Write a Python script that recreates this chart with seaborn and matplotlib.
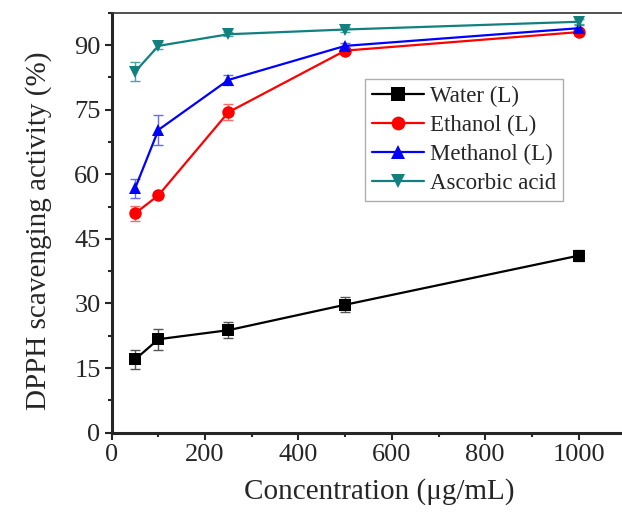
import numpy as np
import pandas as pd
import matplotlib
matplotlib.use("Agg")
import matplotlib.pyplot as plt
import seaborn as sns
from matplotlib.ticker import MultipleLocator

# concentrations (ug/mL)
conc = [50, 100, 250, 500, 1000]

water = [17.0, 21.7, 23.8, 29.7, 41.1]
water_err = [2.3, 2.4, 1.9, 1.7, 1.2]
ethanol = [50.9, 55.1, 74.4, 88.7, 93.0]
ethanol_err = [1.8, 0.6, 1.9, 0.6, 0.6]
methanol = [56.7, 70.3, 81.9, 89.8, 93.9]
methanol_err = [2.2, 3.4, 1.1, 0.6, 0.8]
ascorbic = [83.8, 89.8, 92.5, 93.6, 95.4]
ascorbic_err = [2.2, 0.8, 0.5, 0.5, 0.6]

names = ["Water (L)", "Ethanol (L)", "Methanol (L)", "Ascorbic acid"]
colors = ["black", "#ff0000", "#0000ff", "#138080"]
err_colors = ["#555555", "#ff6a6a", "#6a6aff", "#4fa0a0"]
markers = ["s", "o", "^", "v"]

df = pd.DataFrame({
    "conc": conc * 4,
    "value": water + ethanol + methanol + ascorbic,
    "err": water_err + ethanol_err + methanol_err + ascorbic_err,
    "sample": np.repeat(names, len(conc)),
})

sns.set_style("ticks")
plt.rcParams["font.family"] = ["Liberation Serif", "DejaVu Serif"]

fig = plt.figure(figsize=(6.22, 5.19), dpi=100)
ax = fig.add_axes([0.1796, 0.1663, 0.8204, 0.8092])

# error bars first so the markers sit on top
for name, ec in zip(names, err_colors):
    sub = df[df["sample"] == name]
    ax.errorbar(sub["conc"], sub["value"], yerr=sub["err"], fmt="none",
                ecolor=ec, elinewidth=1.0, capsize=3.5, capthick=1.0, zorder=2)

sns.lineplot(
    data=df, x="conc", y="value", hue="sample", style="sample",
    hue_order=names, style_order=names,
    palette=dict(zip(names, colors)),
    markers=dict(zip(names, markers)), dashes=False,
    markersize=9, markeredgewidth=0, linewidth=1.6, ax=ax, zorder=3,
)

ax.set_xlim(0, 1093)
ax.set_ylim(0, 97.5)
ax.xaxis.set_major_locator(MultipleLocator(200))
ax.xaxis.set_minor_locator(MultipleLocator(100))
ax.yaxis.set_major_locator(MultipleLocator(15))
ax.yaxis.set_minor_locator(MultipleLocator(7.5))
ax.tick_params(which="major", direction="out", length=5, width=1.5, labelsize=19, pad=3)
ax.tick_params(which="minor", direction="out", length=3, width=1.5)

ax.spines["right"].set_visible(False)
ax.spines["left"].set_linewidth(2.2)
ax.spines["bottom"].set_linewidth(2.2)
ax.spines["top"].set_linewidth(1.2)
ax.spines["top"].set_color("#333333")

ax.set_xlabel("Concentration (μg/mL)", fontsize=21)
ax.set_ylabel("DPPH scavenging activity (%)", fontsize=21)
ax.xaxis.set_label_coords(0.525, -0.108)
ax.yaxis.set_label_coords(-0.117, 0.48)

handles, labels = ax.get_legend_handles_labels()
leg = ax.legend(handles, labels, loc="upper left", bbox_to_anchor=(0.496, 0.842),
                borderaxespad=0, fontsize=16.5, frameon=True, fancybox=False,
                edgecolor="#999999", handlelength=2.3, labelspacing=0.34,
                handletextpad=0.25, borderpad=0.3, markerscale=1.1)
leg.get_frame().set_linewidth(1.0)

fig.savefig("out.png", dpi=100)
